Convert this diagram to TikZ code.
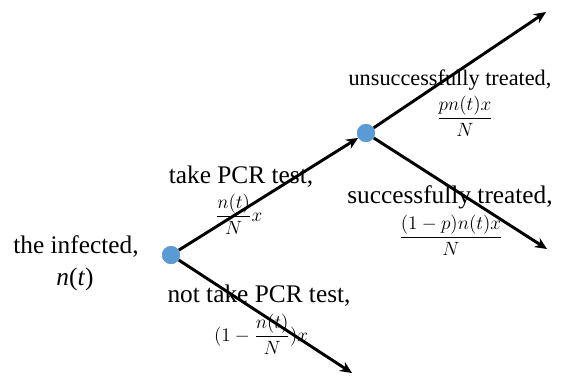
\documentclass[tikz,border=0pt]{standalone}
\usepackage{amsmath}
\usepackage{fontspec}
\setmainfont{Liberation Serif}
\usetikzlibrary{arrows.meta}

\definecolor{dotblue}{RGB}{91,155,213}

\tikzset{
	dot/.style={circle,fill=dotblue,inner sep=0pt,minimum size=13.5pt},
	branch/.style={line width=2.2pt,-{Stealth[length=9pt,width=8pt]}},
	lab/.style={font=\fontsize{19}{22}\selectfont,inner sep=0pt},
	rate/.style={font=\fontsize{14}{16}\selectfont,inner sep=0pt}
}

\begin{document}
\begin{tikzpicture}[x=0.75pt,y=-0.75pt]
		\useasboundingbox (0,0) rectangle (578,375);
		
		\node[dot] (inf) at (171,255) {};
		\node[dot] (pcr) at (366,133) {};
		
		\coordinate (nopcr) at (352,373);
		\coordinate (unsucc) at (546,12);
		\coordinate (succ) at (547,249);
		
		\node[lab,anchor=base] (infl) at (76,253) {the infected,};
		\node[lab,anchor=base] (infn) at (75,285) {\textit{n}(\textit{t})};
		
		\node[lab,anchor=base] (pcrl) at (241,183) {take PCR test,};
		\node[rate] (pcrr) at (239,214) {$\displaystyle\frac{n(t)}{N}x$};
		
		\node[lab,anchor=base] (nopcrl) at (259,302) {not take PCR test,};
		\node[rate] (nopcrr) at (261,334) {$\displaystyle(1-\frac{n(t)}{N})x$};
		
		\node[lab,anchor=base,font=\fontsize{16.7}{20}\selectfont] (unsuccl) at (450,85) {unsuccessfully treated,};
		\node[rate] (unsuccr) at (465,116) {$\displaystyle\frac{pn(t)x}{N}$};
		
		\node[lab,anchor=base] (succl) at (450,203) {successfully treated,};
		\node[rate] (succr) at (451,235) {$\displaystyle\frac{(1-p)n(t)x}{N}$};
		
		\draw[branch] (inf) -- (pcr);
		\draw[branch] (inf) -- (nopcr);
		\draw[branch] (pcr) -- (unsucc);
		\draw[branch] (pcr) -- (succ);
		
		% dots on top of the lines
		\node[dot] at (inf) {};
		\node[dot] at (pcr) {};
	
	\end{tikzpicture}
\end{document}
